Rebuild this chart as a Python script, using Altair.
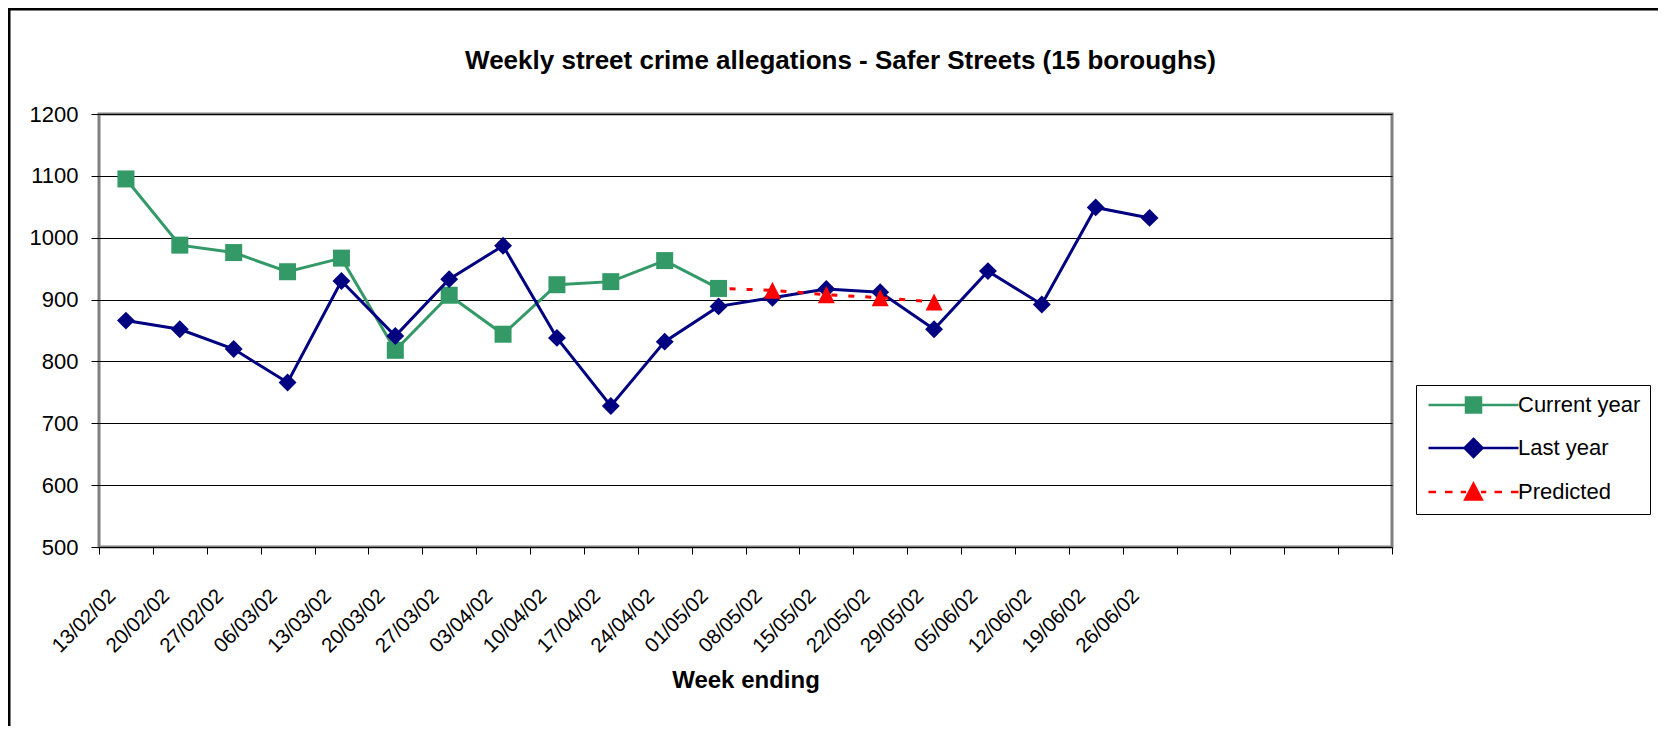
import json
import altair as alt
import pandas as pd

# ---- data ----
weeks = ["13/02/02", "20/02/02", "27/02/02", "06/03/02", "13/03/02", "20/03/02",
         "27/03/02", "03/04/02", "10/04/02", "17/04/02", "24/04/02", "01/05/02",
         "08/05/02", "15/05/02", "22/05/02", "29/05/02", "05/06/02", "12/06/02",
         "19/06/02", "26/06/02", "", "", "", ""]
current_year = [1095, 988, 976, 945, 967, 818, 907, 844, 924, 929, 963, 918]
last_year = [866, 852, 820, 766, 930, 841, 933, 987, 838, 728, 832, 889,
             903, 917, 912, 852, 946, 892, 1049, 1032]
predicted = [None] * 11 + [918, 915, 908, 903, 896]
predicted_marker_from = 12  # first predicted value shares the current-year point

series_names = ["Current year", "Last year", "Predicted"]
series_colors = ["#339966", "#000080", "#FF0000"]
y_ticks = [500, 600, 700, 800, 900, 1000, 1100, 1200]

rows = []
for name, vals in zip(series_names, [current_year, last_year, predicted]):
    for i, v in enumerate(vals):
        if v is not None:
            rows.append({"idx": i, "week": weeks[i], "series": name, "value": v})
df = pd.DataFrame(rows)

W, H = 1293, 433
PAD = {"left": 91, "top": 106, "right": 266, "bottom": 179}
FONT = "Liberation Sans, Arial, sans-serif"

label_expr = json.dumps(weeks + [""]) + "[datum.value]"

x_enc = alt.X(
    "pos:Q",
    scale=alt.Scale(domain=[0, len(weeks)], nice=False, zero=False),
    axis=alt.Axis(
        values=list(range(len(weeks) + 1)), labelExpr=label_expr,
        tickSize=7, tickColor="black", tickWidth=1,
        labelAngle=-45, labelAlign="right", labelBaseline="middle",
        labelOffset=13, labelPadding=38.5, labelFontSize=20.5, labelColor="black",
        labelFlush=False, labelOverlap=False, grid=False, domain=False,
        title="Week ending", titleFontSize=24, titleFontWeight="bold",
        titleColor="black", titleBaseline="alphabetic", titleY=140,
    ),
)
y_enc = alt.Y(
    "value:Q",
    scale=alt.Scale(domain=[500, 1200], nice=False, zero=False),
    axis=alt.Axis(
        values=y_ticks, format="d", tickSize=8, tickColor="black", labelPadding=13,
        labelFontSize=22, labelColor="black", labelFlush=False,
        domain=False, grid=True, gridColor="#000000", gridWidth=1, title=None,
    ),
)

base = alt.Chart(df).transform_calculate(pos="datum.idx + 0.5")

def series(name):
    return base.transform_filter(alt.datum.series == name)

cur_line = series("Current year").mark_line(color=series_colors[0], strokeWidth=3).encode(x=x_enc, y=y_enc)
cur_pts = series("Current year").mark_point(shape="square", filled=True, size=289, opacity=1,
                                           color=series_colors[0]).encode(x="pos:Q", y="value:Q")
last_line = series("Last year").mark_line(color=series_colors[1], strokeWidth=3).encode(x="pos:Q", y="value:Q")
last_pts = series("Last year").mark_point(shape="diamond", filled=True, size=320, opacity=1,
                                         color=series_colors[1]).encode(x="pos:Q", y="value:Q")
pred_line = series("Predicted").mark_line(color=series_colors[2], strokeWidth=3,
                                          strokeDash=[6, 11], strokeDashOffset=6).encode(x="pos:Q", y="value:Q")
pred_pts = (series("Predicted").transform_filter(alt.datum.idx >= predicted_marker_from)
            .mark_point(shape="M0,-1L1,1L-1,1Z", filled=True, size=290, opacity=1,
                        color=series_colors[2]).encode(x="pos:Q", y="value:Q"))

# legend symbols: line + marker (coordinates in symbol units)
legend_shapes = [
    "M-1,0L11,0M4,-1L6,-1L6,1L4,1Z",
    "M-1,0L11,0M5,-1.2L6.2,0L5,1.2L3.8,0Z",
    "M-1,0L0,0M1.2,0L2.2,0M3.3,0L4,0M6,0L6.7,0M7.8,0L8.8,0M10,0L11,0M5,-1.1L6.1,1L3.9,1Z",
]
legend_layer = base.transform_filter("datum.idx < 0").mark_point(opacity=1).encode(
    x="pos:Q", y="value:Q",
    fill=alt.Fill("series:N", scale=alt.Scale(domain=series_names, range=series_colors),
                  legend=alt.Legend(title=None)),
    stroke=alt.Stroke("series:N", scale=alt.Scale(domain=series_names, range=series_colors),
                      legend=alt.Legend(title=None)),
    shape=alt.Shape("series:N", scale=alt.Scale(domain=series_names, range=legend_shapes),
                    legend=alt.Legend(
                        title=None, orient="none", legendX=1317, legendY=271,
                        strokeColor="black", fillColor="white", padding=9,
                        labelFontSize=22, labelColor="black", labelOffset=71,
                        symbolSize=225, symbolStrokeWidth=2.5, rowPadding=16,
                        symbolOpacity=1, labelFont=FONT)),
)

frame_df = pd.DataFrame({"k": [0]})
left_border = alt.Chart(frame_df).mark_rule(color="black", strokeWidth=3).encode(
    x=alt.value(-90), y=alt.value(-106), y2=alt.value(H + PAD["bottom"]))
top_border = alt.Chart(frame_df).mark_rule(color="black", strokeWidth=3).encode(
    x=alt.value(-91), x2=alt.value(W + PAD["right"]), y=alt.value(-105))

chart = alt.layer(
    cur_line, cur_pts, last_line, last_pts, pred_line, pred_pts, legend_layer,
    left_border, top_border,
).properties(
    width=W, height=H,
    title=alt.TitleParams(
        "Weekly street crime allegations - Safer Streets (15 boroughs)",
        fontSize=26, fontWeight="bold", color="black", font=FONT,
        anchor="middle", frame="group", dx=95, dy=88, baseline="alphabetic", offset=0,
    ),
    autosize=alt.AutoSizeParams(type="none"),
    padding=PAD,
).configure(font=FONT).configure_view(
    stroke="#808080", strokeWidth=3
).configure_axis(labelFont=FONT, titleFont=FONT)

chart.save("out.html", embed_options={"renderer": "svg", "actions": False})
